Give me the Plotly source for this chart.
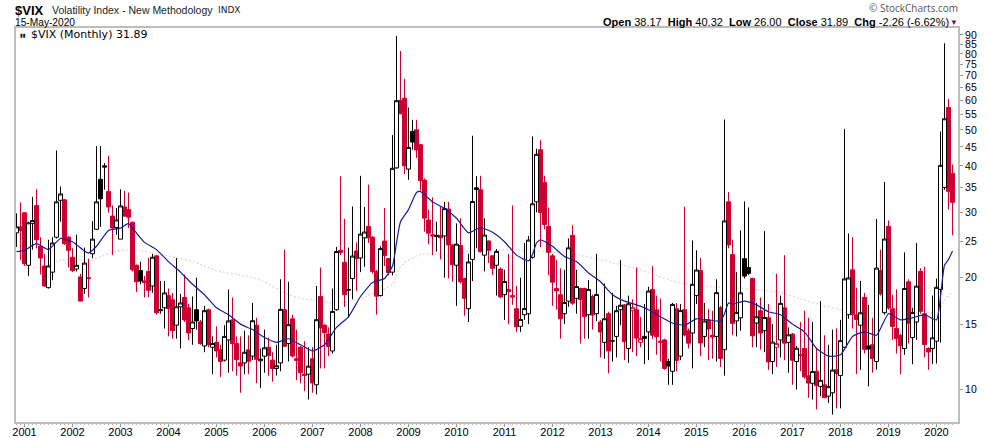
import pandas as pd
import plotly.graph_objects as go

# monthly bars, Nov 2000 .. May 2020
months = list(pd.date_range("2000-11-01", "2020-05-01", freq="MS").strftime("%Y-%m"))

opens = [26.4, 27.4,
    29.9, 21.6, 28.0, 31.3, 24.3, 21.5, 18.8, 20.7, 25.7, 32.3, 32.4, 25.7,
    22.7, 21.1, 20.1, 18.7, 20.0, 23.2, 27.0, 36.8, 40.0, 34.1, 29.3, 27.3,
    25.4, 31.0, 30.5, 28.2, 21.6, 20.9, 19.6, 20.8, 19.0, 22.9, 16.3, 16.6,
    17.9, 17.45, 14.9, 16.7, 17.7, 16.6, 14.6, 16.4, 15.2, 13.1, 16.4, 13.0,
    13.4, 12.8, 12.0, 13.6, 15.4, 13.3, 11.8, 11.8, 12.8, 12.3, 14.9, 11.95,
    12.3, 13.0, 12.0, 11.4, 11.8, 16.4, 13.3, 15.5, 12.1, 13.0, 11.0, 11.0,
    12.1, 10.3, 17.8, 14.9, 14.1, 12.7, 16.4, 23.7, 22.0, 18.6, 19.9, 23.6,
    22.6, 25.6, 27.5, 25.7, 20.8, 17.9, 25.1, 22.5, 20.7, 39.5, 60.0, 60.8,
    39.2, 49.5, 50.0, 45.6, 36.6, 28.6, 26.1, 25.8, 26.0, 25.9, 30.6, 24.5,
    21.6, 24.4, 19.9, 16.5, 22.4, 34.9, 34.5, 23.0, 25.1, 22.9, 21.6, 21.1,
    18.0, 18.6, 17.9, 16.5, 14.8, 15.9, 16.0, 22.7, 32.0, 44.2, 36.1, 27.5,
    22.9, 18.7, 18.0, 16.0, 17.3, 26.0, 17.6, 18.7, 18.7, 15.9, 17.8, 16.0,
    15.2, 13.4, 16.0, 13.5, 13.9, 16.4, 16.9, 12.9, 16.3, 16.4, 13.4, 13.9,
    14.3, 18.6, 16.4, 13.5, 13.6, 11.9, 11.2, 16.5, 12.3, 16.4, 14.4, 14.2,
    17.9, 20.9, 13.9, 15.4, 14.0, 13.9, 16.6, 12.8, 32.0, 23.1, 15.3, 15.6,
    22.5, 21.3, 19.9, 15.1, 16.3, 14.4, 15.6, 11.9, 13.0, 13.6, 16.6, 13.4,
    14.1, 11.9, 12.4, 12.9, 10.9, 10.4, 11.2, 10.2, 10.3, 9.6, 9.8, 11.3,
    10.9, 13.0, 15.9, 21.0, 15.9, 14.9, 17.7, 13.1, 13.2, 11.9, 20.9, 16.1,
    27.5, 16.5, 14.6, 14.0, 12.9, 19.5, 13.8, 15.2, 20.8, 16.0, 12.9, 12.9,
    13.5, 18.6, 35.0, 57.4, 38.17]

highs = [29.8, 31.9,
    30.0, 28.3, 33.0, 34.6, 25.7, 23.2, 25.3, 25.7, 44.0, 35.2, 32.6, 25.9,
    24.0, 26.1, 20.5, 24.1, 22.5, 28.4, 45.2, 45.2, 40.7, 42.6, 31.3, 30.8,
    34.6, 34.3, 33.9, 28.3, 21.7, 22.1, 20.2, 22.6, 23.2, 23.0, 19.6, 19.6,
    18.7, 18.2, 22.6, 18.1, 20.4, 17.0, 17.8, 20.0, 15.4, 16.8, 16.5, 13.9,
    14.8, 13.2, 14.9, 18.6, 17.7, 13.9, 13.9, 14.4, 14.0, 17.1, 15.6, 12.9,
    14.5, 13.8, 12.6, 13.2, 19.8, 23.8, 19.5, 15.9, 14.5, 13.1, 13.5, 13.0,
    13.0, 19.0, 21.3, 15.0, 14.7, 18.7, 24.2, 37.5, 28.8, 24.1, 31.1, 24.9,
    37.6, 31.0, 35.6, 25.9, 21.0, 24.3, 30.8, 22.6, 48.4, 89.53, 81.5, 68.6,
    57.4, 53.2, 53.2, 45.8, 37.0, 30.5, 32.9, 28.3, 31.1, 32.0, 32.0, 24.6,
    28.0, 28.9, 20.0, 23.2, 48.2, 37.5, 37.6, 28.9, 25.2, 23.0, 23.9, 21.3,
    21.0, 23.2, 31.3, 19.0, 20.0, 24.8, 25.9, 48.0, 44.5, 46.9, 37.6, 30.9,
    23.2, 22.3, 21.2, 21.0, 25.5, 27.7, 21.0, 18.8, 18.8, 19.7, 18.0, 23.2,
    15.4, 19.3, 16.2, 18.2, 16.8, 22.3, 17.0, 17.9, 17.5, 21.3, 15.7, 17.0,
    18.9, 21.5, 17.9, 17.6, 13.7, 12.1, 17.1, 17.1, 17.0, 31.06, 14.6, 25.2,
    23.7, 22.6, 17.1, 16.5, 16.3, 19.8, 16.8, 53.3, 34.0, 25.3, 20.7, 26.8,
    32.1, 30.9, 20.0, 17.1, 17.7, 26.7, 17.0, 15.0, 20.5, 17.9, 23.0, 14.7,
    14.2, 13.1, 15.2, 16.3, 15.6, 15.2, 12.9, 17.3, 14.0, 13.2, 14.5, 14.6,
    15.4, 50.3, 26.3, 25.7, 18.8, 19.6, 18.2, 16.9, 15.6, 28.8, 23.8, 36.2,
    28.5, 18.0, 18.6, 14.1, 23.4, 19.8, 16.6, 24.8, 21.2, 21.4, 13.0, 17.9,
    19.9, 49.48, 85.47, 60.59, 40.32]

lows = [24.2, 22.3,
    21.5, 20.2, 23.8, 24.0, 20.4, 18.9, 18.7, 19.7, 25.5, 28.3, 24.5, 21.3,
    20.7, 20.8, 17.3, 18.1, 17.7, 22.6, 26.9, 27.4, 34.5, 29.9, 23.0, 26.1,
    25.4, 29.2, 27.2, 20.8, 18.3, 19.2, 17.7, 17.7, 18.2, 15.9, 16.0, 14.6,
    13.9, 13.7, 13.7, 12.9, 15.2, 13.6, 13.2, 14.5, 13.2, 12.6, 13.0, 11.0,
    12.2, 10.8, 11.9, 11.1, 11.2, 10.9, 9.8, 11.0, 11.0, 12.0, 10.4, 10.1,
    11.1, 10.9, 10.5, 10.9, 11.2, 13.0, 11.9, 12.2, 10.6, 10.4, 9.9, 9.4,
    9.8, 9.7, 11.4, 11.4, 12.3, 12.5, 16.3, 23.0, 16.7, 15.6, 17.5, 18.4,
    20.7, 21.4, 24.8, 20.5, 15.9, 17.8, 21.5, 20.3, 20.3, 39.3, 55.0, 38.0,
    36.7, 44.2, 42.0, 34.3, 26.6, 24.6, 23.0, 23.5, 22.4, 20.0, 19.9, 19.5,
    16.8, 19.3, 15.8, 15.2, 19.6, 24.0, 23.4, 20.8, 21.9, 20.3, 17.9, 17.6,
    15.4, 15.0, 16.9, 14.3, 14.3, 15.4, 15.0, 22.5, 30.0, 24.2, 27.0, 20.3,
    16.8, 16.4, 13.7, 15.0, 16.7, 16.9, 16.0, 13.3, 13.7, 13.7, 14.5, 15.3,
    12.2, 12.1, 11.05, 11.9, 12.2, 14.9, 12.0, 11.8, 12.6, 12.3, 13.0, 11.7,
    12.0, 13.7, 12.4, 11.9, 11.3, 10.3, 10.3, 11.2, 12.0, 13.9, 12.9, 11.4,
    17.0, 12.3, 13.0, 12.0, 12.1, 11.9, 11.5, 10.9, 24.0, 14.0, 13.9, 14.4,
    19.9, 20.3, 13.0, 13.0, 12.8, 12.6, 11.3, 11.0, 11.5, 12.2, 12.0, 11.1,
    10.3, 10.0, 11.2, 10.7, 9.5, 9.4, 8.84, 9.6, 9.5, 9.2, 8.56, 8.9,
    8.9, 12.9, 15.5, 14.6, 11.0, 11.3, 12.5, 10.2, 11.1, 11.3, 17.9, 15.9,
    16.4, 13.6, 12.5, 11.0, 12.4, 13.3, 11.7, 13.6, 16.0, 12.2, 11.3, 11.7,
    11.75, 13.38, 34.5, 30.5, 26.0]

closes = [27.4, 26.8,
    21.8, 28.1, 28.5, 25.3, 22.6, 19.0, 21.5, 24.8, 32.0, 33.6, 24.7, 23.7,
    20.9, 21.6, 17.3, 21.9, 19.9, 25.4, 32.0, 32.6, 39.7, 31.0, 27.2, 28.6,
    31.2, 29.3, 29.1, 21.0, 19.5, 19.6, 19.4, 18.5, 22.7, 16.1, 16.4, 18.2,
    16.5, 14.4, 16.7, 17.1, 15.4, 14.2, 15.2, 15.3, 13.3, 16.3, 13.2, 13.3,
    12.7, 11.9, 13.9, 15.3, 13.29, 12.04, 11.57, 12.6, 11.92, 15.32, 12.06, 12.07,
    12.95, 12.34, 11.39, 11.59, 16.44, 13.08, 14.95, 12.31, 11.98, 11.1, 10.91, 11.56,
    10.42, 15.42, 14.64, 14.22, 13.05, 16.23, 23.52, 23.38, 18.0, 18.53, 22.87, 22.5,
    26.2, 26.54, 25.61, 20.79, 17.83, 23.95, 22.94, 20.65, 39.39, 59.89, 55.28, 40.0,
    44.84, 46.35, 44.14, 36.5, 28.92, 26.35, 25.92, 26.01, 25.61, 30.69, 24.51, 21.68,
    24.62, 19.5, 17.59, 22.05, 32.07, 34.54, 23.5, 26.05, 23.7, 21.2, 23.54, 17.75,
    19.53, 18.35, 17.74, 14.75, 15.45, 16.52, 25.25, 31.62, 42.96, 29.96, 27.8, 23.4,
    19.44, 18.43, 15.5, 17.15, 24.06, 17.08, 18.93, 17.47, 15.73, 18.6, 15.87, 18.02,
    14.28, 15.51, 12.7, 13.52, 16.3, 16.86, 13.45, 17.01, 16.6, 13.75, 13.7, 13.72,
    18.41, 14.0, 13.88, 13.41, 11.4, 11.57, 16.95, 11.98, 16.31, 14.03, 13.33, 19.2,
    20.97, 13.34, 15.29, 14.55, 13.84, 18.23, 12.12, 28.43, 24.5, 15.07, 16.13, 18.21,
    20.2, 20.55, 13.95, 15.7, 14.19, 15.63, 11.87, 13.42, 13.29, 17.06, 13.33, 14.04,
    11.99, 12.92, 12.37, 10.82, 10.41, 11.18, 10.26, 10.59, 9.51, 10.18, 11.28, 11.04,
    13.54, 19.85, 19.97, 15.93, 15.43, 16.09, 12.83, 12.86, 12.12, 21.23, 18.07, 25.42,
    16.57, 14.78, 13.71, 13.12, 18.71, 15.08, 16.12, 18.98, 16.24, 13.22, 12.62, 13.78,
    18.84, 40.11, 53.54, 34.15, 31.89]

# blue moving average
ma_months = ["2000-11", "2001-01", "2001-04", "2001-07", "2001-10", "2002-01", "2002-04", "2002-05",
    "2002-07", "2002-10", "2003-01", "2003-03", "2003-04", "2003-07", "2003-10", "2004-01", "2004-04",
    "2004-07", "2004-10", "2005-01", "2005-04", "2005-07", "2005-10", "2006-01", "2006-04", "2006-07",
    "2006-10", "2007-01", "2007-04", "2007-07", "2007-10", "2008-01", "2008-04", "2008-07", "2008-09",
    "2008-10", "2008-11", "2009-01", "2009-03", "2009-04", "2009-07", "2009-10", "2010-01", "2010-04",
    "2010-07", "2010-10", "2011-01", "2011-04", "2011-07", "2011-08", "2011-09", "2011-10", "2012-01",
    "2012-04", "2012-07", "2012-10", "2013-01", "2013-04", "2013-07", "2013-10", "2014-01", "2014-04",
    "2014-07", "2014-10", "2015-01", "2015-04", "2015-07", "2015-08", "2015-09", "2015-10", "2016-01",
    "2016-04", "2016-07", "2016-10", "2017-01", "2017-04", "2017-07", "2017-10", "2018-01", "2018-04",
    "2018-07", "2018-10", "2019-01", "2019-04", "2019-07", "2019-10", "2020-01", "2020-02", "2020-03",
    "2020-04", "2020-05"]
ma_values = [23.5, 23.7, 24.7, 23.8, 25.5, 25.0, 23.6, 23.3,
    24.3, 26.8, 27.2, 28.0, 27.2, 24.9, 23.8, 22.1, 20.7,
    19.2, 18.0, 16.6, 15.9, 15.0, 14.5, 13.8, 13.4, 13.7,
    13.2, 12.7, 13.2, 14.7, 15.7, 17.8, 19.4, 19.9, 21.5,
    24.8, 28.3, 30.5, 33.9, 34.1, 32.0, 30.7, 28.9, 26.4,
    27.3, 26.5, 25.0, 23.0, 22.2, 23.1, 24.8, 25.3, 24.3,
    22.8, 22.1, 20.6, 19.5, 18.0, 17.3, 16.9, 16.4, 15.7,
    15.1, 14.9, 15.5, 15.4, 15.3, 16.0, 17.1, 17.0, 17.3,
    16.9, 16.2, 15.9, 15.0, 14.3, 12.9, 12.3, 12.4, 13.9,
    14.3, 14.0, 16.0, 15.4, 15.6, 15.9, 15.4, 17.8, 21.6,
    22.4, 23.6]

# faint pink average
long_ma_months = ["2001-01", "2001-07", "2001-10", "2002-06", "2002-10", "2003-03", "2003-07", "2004-01",
    "2004-08", "2005-01", "2005-06", "2005-12", "2006-07", "2007-01", "2007-07", "2008-01", "2008-05",
    "2008-09", "2008-11", "2009-03", "2009-06", "2010-01", "2010-04", "2011-01", "2011-10", "2012-06",
    "2013-02", "2013-11", "2014-08", "2015-05", "2016-01", "2016-10", "2017-01", "2018-01", "2018-10",
    "2019-07", "2020-01", "2020-03", "2020-05"]
long_ma_values = [21.2, 21.6, 22.3, 22.4, 23.2, 23.8, 23.5, 22.9,
    21.9, 20.9, 20.4, 19.7, 18.0, 17.4, 17.1, 17.6, 18.3,
    19.2, 21.4, 22.9, 23.2, 23.0, 23.5, 23.7, 23.6, 23.2,
    22.2, 21.0, 19.5, 18.9, 18.7, 18.2, 17.8, 16.4, 16.0,
    16.3, 16.2, 17.4, 18.3]

price_ticks = [10, 15, 20, 25, 30, 35, 40, 45, 50, 55, 60, 65, 70, 75, 80, 85, 90]
year_labels = [str(y) for y in range(2001, 2021)]

RED = "#cc0033"
W, H = 990, 438
L, R, T, B = 16, 958, 28, 422.5

x = list(range(len(months)))
pos = {m: i for i, m in enumerate(months)}


def subset(kind):
    # stockcharts colouring: hollow if close > open, red if close < previous close
    out = {"x": [], "open": [], "high": [], "low": [], "close": []}
    for i in x:
        hollow = closes[i] > opens[i]
        red = i > 0 and closes[i] < closes[i - 1]
        if (hollow, red) == kind:
            out["x"].append(i)
            out["open"].append(opens[i])
            out["high"].append(highs[i])
            out["low"].append(lows[i])
            out["close"].append(closes[i])
    return out


fig = go.Figure()

fig.add_trace(go.Scatter(
    x=[pos[m] for m in long_ma_months], y=long_ma_values, mode="lines",
    line=dict(color="#f5d5dc", width=1.5, dash="2px,2px", shape="spline"),
    xaxis="x", yaxis="y", showlegend=False,
))

# filled red goes first so the neighbours' black outlines stay on top
styles = [
    ((False, True), RED, RED),
    ((True, True), RED, "#ffffff"),
    ((False, False), "#000000", "#000000"),
    ((True, False), "#000000", "#ffffff"),
]
for kind, edge, fill in styles:
    d = subset(kind)
    style = dict(line=dict(color=edge, width=1), fillcolor=fill)
    fig.add_trace(go.Candlestick(
        x=d["x"], open=d["open"], high=d["high"], low=d["low"], close=d["close"],
        increasing=style, decreasing=style,
        xaxis="x2", yaxis="y2", showlegend=False,
    ))

fig.add_trace(go.Scatter(
    x=[pos[m] for m in ma_months], y=ma_values, mode="lines",
    line=dict(color="#1c1c96", width=1.2, shape="spline", smoothing=0.5),
    xaxis="x2", yaxis="y2", showlegend=False,
))

# shift by an eighth of a bar so the 1px wicks land on whole pixels
x_range = [-0.125, (R - L) / 4 - 0.125]
y_range = [0.9127, 1.973]

fig.update_layout(
    width=W, height=H, margin=dict(l=L, r=W - R, t=T, b=H - B, pad=0),
    paper_bgcolor="white", plot_bgcolor="white", showlegend=False, boxgap=0, boxgroupgap=0,
    font=dict(family="Liberation Sans", size=11, color="#000000"),
    xaxis=dict(
        range=x_range, tickvals=[pos[y + "-01"] for y in year_labels], ticktext=year_labels, automargin=False,
        showgrid=False, zeroline=False, showline=True, mirror=True, linecolor="#bdbdbd", linewidth=2,
        ticks="outside", ticklen=3, tickcolor="#999999", tickfont=dict(size=11), ticklabelstandoff=-4,
        minor=dict(tickvals=x, ticks="outside", ticklen=1, tickcolor="#bbbbbb"),
    ),
    yaxis=dict(
        type="log", range=y_range, side="right", automargin=False,
        tickvals=price_ticks, ticktext=[str(t) for t in price_ticks],
        showgrid=False, zeroline=False, showline=True, mirror=True, linecolor="#bdbdbd", linewidth=2,
        ticks="outside", ticklen=3, tickcolor="#999999", tickfont=dict(size=10.5),
    ),
    xaxis2=dict(range=x_range, overlaying="x", visible=False, automargin=False, rangeslider=dict(visible=False)),
    yaxis2=dict(type="log", range=y_range, overlaying="y", visible=False, automargin=False),
)


def label(px, py, text, anchor="left", size=12, color="#000000", family="Liberation Sans"):
    fig.add_annotation(
        xref="paper", yref="paper", x=(px - L) / (R - L), y=1 - (py - T) / (B - T),
        text=text, showarrow=False, xanchor=anchor, yanchor="middle",
        font=dict(size=size, color=color, family=family), borderpad=0, borderwidth=0,
    )


label(15, 10, "<b>$VIX</b>", size=13)
label(52, 10, "Volatility Index - New Methodology", size=10.5, color="#222222")
label(218, 10, "INDX", size=9, color="#222222", family="DejaVu Sans")
label(15, 22, "15-May-2020", size=10.2)
label(20, 35, "▮▮", size=5, family="DejaVu Sans")
label(31, 35, "$VIX (Monthly) 31.89", size=11, family="DejaVu Sans")
label(958, 8, "© StockCharts.com", anchor="right", size=10, color="#555555", family="Open Sans")
label(949, 22, "<b>Open</b> 38.17  <b>High</b> 40.32  <b>Low</b> 26.00  <b>Close</b> 31.89  <b>Chg</b> -2.26 (-6.62%)",
      anchor="right", size=11)
label(958, 22, "▼", anchor="right", size=8, color="#990033")

fig.write_html("out.html", config={"displayModeBar": False}, post_script="document.body.style.margin='0';")
